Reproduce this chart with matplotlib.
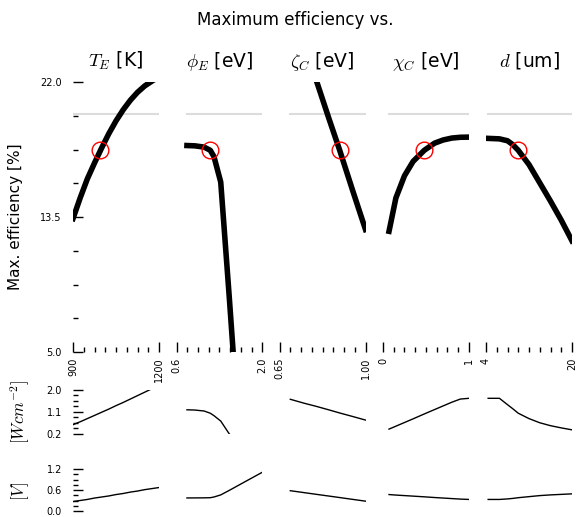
import matplotlib.pyplot as plt
import numpy as np

plt.rcParams['mathtext.fontset'] = 'cm'

# swept parameters and results: efficiency [%], power density [W/cm2], voltage [V]
T_E = [900, 925, 950, 975, 1000, 1025, 1050, 1075, 1100, 1125, 1150, 1175, 1200]
eff_T = [13.4, 14.7, 15.9, 16.9, 17.85, 18.75, 19.55, 20.25, 20.85, 21.35, 21.75, 22.05, 22.35]
pow_T = [0.58, 0.70, 0.83, 0.96, 1.09, 1.22, 1.36, 1.49, 1.63, 1.77, 1.91, 2.05, 2.18]
volt_T = [0.27, 0.30, 0.33, 0.37, 0.40, 0.43, 0.47, 0.50, 0.54, 0.57, 0.61, 0.64, 0.67]

phi_E = [0.77, 0.9, 1.05, 1.15, 1.21, 1.32, 1.46, 1.55, 1.75, 2.0]
eff_phi = [18.0, 17.98, 17.9, 17.7, 17.3, 15.7, 8.4, 3.5, 0.0, 0.0]
pow_phi = [1.19, 1.18, 1.14, 1.05, 0.95, 0.73, 0.2, 0.0, 0.0, 0.0]
volt_phi = [0.373, 0.374, 0.376, 0.38, 0.40, 0.46, 0.59, 0.677, 0.87, 1.11]

zeta_C = [0.694, 0.75, 0.8, 0.85, 0.895, 0.95, 1.0]
eff_zeta = [27.07, 24.44, 22.09, 19.75, 17.7, 15.06, 12.71]
pow_zeta = [1.62, 1.46, 1.33, 1.19, 1.06, 0.91, 0.77]
volt_zeta = [0.58, 0.525, 0.476, 0.428, 0.384, 0.33, 0.281]

chi_C = [0.07, 0.15, 0.25, 0.35, 0.48, 0.6, 0.7, 0.8, 0.9, 1.0]
eff_chi = [12.6, 14.7, 16.1, 17.0, 17.7, 18.15, 18.35, 18.47, 18.52, 18.53]
pow_chi = [0.40, 0.52, 0.67, 0.82, 1.02, 1.2, 1.35, 1.5, 1.63, 1.66]
volt_chi = [0.47, 0.455, 0.44, 0.425, 0.405, 0.385, 0.37, 0.355, 0.34, 0.33]

d = [4.4, 6.5, 8.0, 9.0, 10.0, 12.0, 14.0, 16.0, 18.0, 20.0]
eff_d = [18.45, 18.42, 18.3, 18.05, 17.7, 16.8, 15.65, 14.5, 13.3, 12.0]
pow_d = [1.66, 1.66, 1.40, 1.23, 1.05, 0.83, 0.66, 0.54, 0.45, 0.37]
volt_d = [0.33, 0.33, 0.345, 0.36, 0.38, 0.41, 0.44, 0.46, 0.475, 0.49]

# design point
design_x = [995, 1.15, 0.895, 0.48, 10.0]
design_eff = 17.7
eff_limit = 20.0

titles = [r'$T_E$ [K]', r'$\phi_E$ [eV]', r'$\zeta_C$ [eV]', r'$\chi_C$ [eV]', r'$d$ [um]']
xlims = [(900, 1200), (0.6, 2.0), (0.65, 1.00), (0, 1), (4, 20)]
xlabels = [('900', '1200'), ('0.6', '2.0'), ('0.65', '1.00'), ('0', '1'), ('4', '20')]

xs = [T_E, phi_E, zeta_C, chi_C, d]
effs = [eff_T, eff_phi, eff_zeta, eff_chi, eff_d]
pows = [pow_T, pow_phi, pow_zeta, pow_chi, pow_d]
volts = [volt_T, volt_phi, volt_zeta, volt_chi, volt_d]

ylims = [(5.0, 22.0), (0.2, 2.0), (0.0, 1.2)]
ylabels = [('5.0', '13.5', '22.0'), ('0.2', '1.1', '2.0'), ('0.0', '0.6', '1.2')]

W, H = 577, 517
fig = plt.figure(figsize=(W / 100, H / 100), dpi=100)
lefts = [73, 176.5, 279.5, 383, 486]
width = 86
rows = [(82, 352), (390, 434), (469, 511)]

for j in range(5):
    for i, (top, bot) in enumerate(rows):
        ax = fig.add_axes([lefts[j] / W, 1 - bot / H, width / W, (bot - top) / H])
        x = xs[j]
        if i == 0:
            ax.plot(x, [eff_limit] * len(x), color='#dcdcdc', lw=1.5)
            ax.plot(x, effs[j], color='k', lw=4)
            ax.plot(design_x[j], design_eff, 'o', mfc='none', mec='red', ms=12, mew=1)
            ax.set_title(titles[j], fontsize=13.5, pad=11)
        elif i == 1:
            ax.plot(x, pows[j], color='k', lw=1)
        else:
            ax.plot(x, volts[j], color='k', lw=1)

        ax.set_xlim(*xlims[j])
        ax.set_ylim(*ylims[i])
        for s in ax.spines.values():
            s.set_visible(False)
        ax.tick_params(which='both', direction='in', width=1)
        ax.tick_params(which='major', length=7, labelsize=7, pad=8)
        ax.tick_params(which='minor', length=3.5)

        lo, hi = xlims[j]
        if i == 0:
            ax.set_xticks([lo, hi])
            ax.set_xticklabels(xlabels[j], rotation=90)
            ax.set_xticks(np.linspace(lo, hi, 9), minor=True)
            ax.tick_params(axis='x', pad=4)
        else:
            ax.set_xticks([])

        if j == 0:
            ylo, yhi = ylims[i]
            ax.set_yticks(np.linspace(ylo, yhi, 3))
            ax.set_yticklabels(ylabels[i])
            ax.set_yticks(np.linspace(ylo, yhi, 9), minor=True)
        else:
            ax.set_yticks([])

fig.text(295 / W, 1 - 20 / H, 'Maximum efficiency vs.', ha='center', va='center', fontsize=12)
fig.text(16 / W, 1 - 217 / H, 'Max. efficiency [%]', rotation=90, ha='center', va='center', fontsize=11)
fig.text(20 / W, 1 - 412 / H, r'$[W cm^{-2}]$', rotation=90, ha='center', va='center', fontsize=12)
fig.text(20 / W, 1 - 491 / H, r'$[V]$', rotation=90, ha='center', va='center', fontsize=12)

fig.savefig('out.png', dpi=100)
